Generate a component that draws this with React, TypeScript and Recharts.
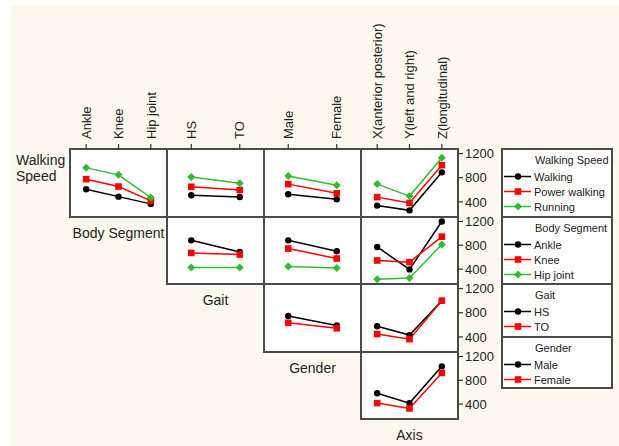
import React from "react";
import { LineChart, Line, XAxis, YAxis } from "recharts";

// ---------- factor levels (tick labels) ----------
const speedLevels = ["Walking", "Power walking", "Running"];
const segmentLevels = ["Ankle", "Knee", "Hip joint"];
const gaitLevels = ["HS", "TO"];
const genderLevels = ["Male", "Female"];
const axisLevels = ["X(anterior posterior)", "Y(left and right)", "Z(longitudinal)"];

// ---------- Row 1: Walking Speed traces ----------
const walkingBySegment = [610, 487, 367];
const powerBySegment = [776, 654, 417];
const runningBySegment = [963, 847, 471];
const walkingByGait = [509, 481];
const powerByGait = [650, 596];
const runningByGait = [813, 710];
const walkingByGender = [526, 444];
const powerByGender = [694, 542];
const runningByGender = [830, 677];
const walkingByAxis = [339, 260, 889];
const powerByAxis = [479, 383, 1008];
const runningByAxis = [694, 496, 1132];

// ---------- Row 2: Body Segment traces ----------
const ankleByGait = [883, 688];
const kneeByGait = [672, 645];
const hipByGait = [428, 428];
const ankleByGender = [883, 700];
const kneeByGender = [745, 578];
const hipByGender = [445, 418];
const ankleByAxis = [772, 395, 1200];
const kneeByAxis = [545, 517, 945];
const hipByAxis = [228, 250, 812];

// ---------- Row 3: Gait traces ----------
const hsByGender = [745, 589];
const toByGender = [633, 543];
const hsByAxis = [577, 430, 998];
const toByAxis = [447, 363, 998];

// ---------- Row 4: Gender traces ----------
const maleByAxis = [582, 417, 1034];
const femaleByAxis = [417, 327, 924];

const yTicks = [400, 800, 1200];

// ---------- layout / style ----------
const FONT = "'Liberation Sans', Arial, Helvetica, sans-serif";
const Y_DOMAIN = [150, 1275];
const COL_X = [70, 167, 264, 361];
const COL_W = 97;
const ROW_Y = [149, 217, 284, 352];
const ROW_H = [68, 67, 68, 67];
const PAD = 10; // extra room above/below each plot so labels are not clipped
const COLORS = ["#000000", "#ff0000", "#33bb33"];
const SHAPES = ["circle", "square", "diamond"];
const BORDER = "#4a4a4a";
const TEXT = "#222222";

type Panel = { row: number; col: number; levels: string[]; series: number[][] };

const panels: Panel[] = [
  { row: 0, col: 0, levels: segmentLevels, series: [walkingBySegment, powerBySegment, runningBySegment] },
  { row: 0, col: 1, levels: gaitLevels, series: [walkingByGait, powerByGait, runningByGait] },
  { row: 0, col: 2, levels: genderLevels, series: [walkingByGender, powerByGender, runningByGender] },
  { row: 0, col: 3, levels: axisLevels, series: [walkingByAxis, powerByAxis, runningByAxis] },
  { row: 1, col: 1, levels: gaitLevels, series: [ankleByGait, kneeByGait, hipByGait] },
  { row: 1, col: 2, levels: genderLevels, series: [ankleByGender, kneeByGender, hipByGender] },
  { row: 1, col: 3, levels: axisLevels, series: [ankleByAxis, kneeByAxis, hipByAxis] },
  { row: 2, col: 2, levels: genderLevels, series: [hsByGender, toByGender] },
  { row: 2, col: 3, levels: axisLevels, series: [hsByAxis, toByAxis] },
  { row: 3, col: 3, levels: axisLevels, series: [maleByAxis, femaleByAxis] },
];

const legends = [
  { title: "Walking Speed", items: speedLevels, y: 149, h: 68 },
  { title: "Body Segment", items: segmentLevels, y: 217, h: 67 },
  { title: "Gait", items: gaitLevels, y: 284, h: 53 },
  { title: "Gender", items: genderLevels, y: 337, h: 51 },
];

const diagLabels = [
  { text: "Body Segment", col: 0, row: 0 },
  { text: "Gait", col: 1, row: 1 },
  { text: "Gender", col: 2, row: 2 },
  { text: "Axis", col: 3, row: 3 },
];

function Marker({ shape, color, cx, cy }: any) {
  if (shape === "circle") return <circle cx={cx} cy={cy} r={3.2} fill={color} />;
  if (shape === "square") return <rect x={cx - 3.3} y={cy - 3.3} width={6.6} height={6.6} fill={color} />;
  return <path d={`M${cx},${cy - 4}L${cx + 4},${cy}L${cx},${cy + 4}L${cx - 4},${cy}Z`} fill={color} />;
}

const makeDot = (shape: string, color: string) => (props: any) => {
  const { cx, cy, index } = props;
  if (cx == null || cy == null) return <g key={`e-${index}`} />;
  return (
    <g key={`d-${index}`}>
      <Marker shape={shape} color={color} cx={cx} cy={cy} />
    </g>
  );
};

const TopTick = (props: any) => {
  const { x, payload, labels } = props;
  const y = ROW_Y[0] - 10;
  return (
    <text
      x={x}
      y={y}
      transform={`rotate(-90 ${x} ${y})`}
      dy="0.36em"
      textAnchor="start"
      fontSize={13}
      fill={TEXT}
      fontFamily={FONT}
    >
      {labels[payload.value]}
    </text>
  );
};

function PanelChart({ p }: { p: Panel }) {
  const isTop = p.row === 0;
  const isRight = p.col === 3;
  const n = p.levels.length;
  const top = isTop ? 0 : ROW_Y[p.row] - PAD;
  const height = isTop ? ROW_Y[0] + ROW_H[0] + PAD : ROW_H[p.row] + 2 * PAD;
  const width = COL_W + (isRight ? 45 : 0);
  const data = p.levels.map((lab, i) => {
    const row: any = { i, lab };
    p.series.forEach((vals, k) => {
      row[`s${k}`] = vals[i];
    });
    return row;
  });
  const idx = p.levels.map((_, i) => i);
  return (
    <div style={{ position: "absolute", left: COL_X[p.col], top, width, height }}>
      <LineChart
        width={width}
        height={height}
        data={data}
        margin={{ top: isTop ? 0 : PAD, right: 0, bottom: PAD, left: 0 }}
      >
        <XAxis
          type="number"
          dataKey="i"
          domain={[-0.5, n - 0.5]}
          ticks={idx}
          interval={0}
          orientation="top"
          hide={!isTop}
          height={isTop ? ROW_Y[0] : 0}
          axisLine={false}
          tickLine={{ stroke: "#333", strokeWidth: 1.2 }}
          tickSize={5}
          tickMargin={5}
          tick={<TopTick labels={p.levels} />}
          allowDataOverflow
        />
        <YAxis
          type="number"
          domain={Y_DOMAIN}
          ticks={yTicks}
          interval={0}
          orientation="right"
          hide={!isRight}
          width={45}
          axisLine={false}
          tickLine={{ stroke: "#333", strokeWidth: 1.2 }}
          tickSize={5}
          tickMargin={2}
          tick={{ fontSize: 13, fill: TEXT, fontFamily: FONT }}
          allowDataOverflow
        />
        {p.series.map((_, k) => (
          <Line
            key={k}
            type="linear"
            dataKey={`s${k}`}
            stroke={COLORS[k]}
            strokeWidth={1.5}
            dot={makeDot(SHAPES[k], COLORS[k])}
            activeDot={false}
            isAnimationActive={false}
          />
        ))}
      </LineChart>
    </div>
  );
}

export default function App() {
  return (
    <div
      style={{
        position: "absolute",
        left: 0,
        top: 0,
        width: 619,
        height: 446,
        background: "#ffffff",
        fontFamily: FONT,
        overflow: "hidden",
      }}
    >
      <svg width={619} height={446} style={{ position: "absolute", left: 0, top: 0 }}>
        <rect x={10} y={5} width={609} height={441} fill="#fdf9ee" />
        {panels.map((p, i) => (
          <rect
            key={i}
            x={COL_X[p.col]}
            y={ROW_Y[p.row]}
            width={COL_W}
            height={ROW_H[p.row]}
            fill="#ffffff"
            stroke={BORDER}
            strokeWidth={2}
          />
        ))}
        {/* legend */}
        {legends.map((lg, li) => (
          <g key={li}>
            <rect x={502} y={lg.y} width={110} height={lg.h} fill="#ffffff" stroke={BORDER} strokeWidth={2} />
            <text x={535} y={lg.y + 15} fontSize={11} fill={TEXT} fontFamily={FONT}>
              {lg.title}
            </text>
            {lg.items.map((it, k) => {
              const cy = lg.y + 27.5 + k * 15;
              return (
                <g key={k}>
                  <line x1={504} x2={531} y1={cy} y2={cy} stroke={COLORS[k]} strokeWidth={1.5} />
                  <Marker shape={SHAPES[k]} color={COLORS[k]} cx={518} cy={cy} />
                  <text x={534} y={cy + 4} fontSize={11} fill={TEXT} fontFamily={FONT}>
                    {it}
                  </text>
                </g>
              );
            })}
          </g>
        ))}
        {/* labels */}
        <text x={16} y={165} fontSize={14} fill={TEXT} fontFamily={FONT}>
          Walking
        </text>
        <text x={16} y={181} fontSize={14} fill={TEXT} fontFamily={FONT}>
          Speed
        </text>
        {diagLabels.map((d, i) => (
          <text
            key={i}
            x={COL_X[d.col] + COL_W / 2}
            y={ROW_Y[d.row] + ROW_H[d.row] + 21}
            fontSize={14}
            fill={TEXT}
            textAnchor="middle"
            fontFamily={FONT}
          >
            {d.text}
          </text>
        ))}
      </svg>
      {panels.map((p, i) => (
        <PanelChart key={i} p={p} />
      ))}
    </div>
  );
}
